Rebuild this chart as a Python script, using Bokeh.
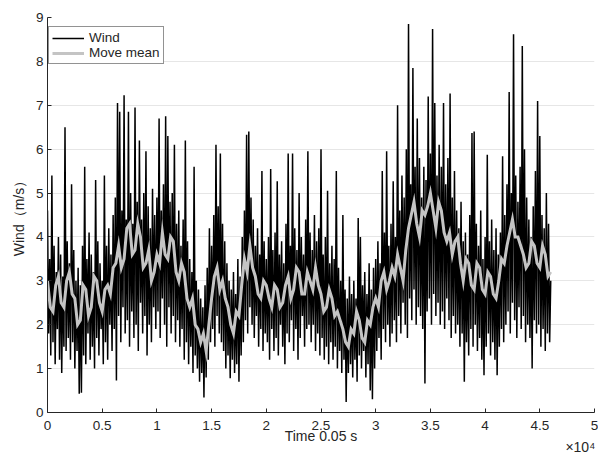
from bokeh.plotting import figure
from bokeh.models import FixedTicker, Legend, LegendItem, LinearAxis
from bokeh.embed import file_html
from bokeh.resources import INLINE

# Wind samples (m/s), one every 100 time steps, t = 0 .. 46000
wind_step = 100
wind = [
    4.6, 1.8, 3.5, 1.3, 5.4, 1.6, 3.8, 1.1, 3.2, 1.9, 4.0, 1.2, 3.6, 0.9, 3.1, 1.5, 6.5, 1.4, 3.9, 1.7,
    3.4, 1.2, 5.2, 1.6, 3.7, 1.0, 3.0, 1.4, 3.3, 0.43, 2.9, 0.45, 3.8, 1.3, 5.6, 1.1, 3.5, 1.8, 4.1, 1.2,
    3.6, 1.5, 3.2, 1.0, 5.3, 1.7, 3.9, 1.3, 3.4, 1.9, 3.0, 1.1, 5.4, 1.6, 3.8, 1.2, 4.2, 2.0, 3.6, 1.4,
    4.5, 1.9, 4.9, 0.73, 7.05, 2.2, 6.85, 1.6, 4.6, 2.4, 7.23, 1.8, 4.4, 2.1, 6.85, 1.5, 5.0, 2.3, 4.3, 1.7,
    6.95, 2.0, 4.8, 1.4, 6.2, 2.5, 4.4, 1.8, 5.0, 2.2, 5.95, 1.3, 4.7, 2.0, 4.2, 1.6, 5.1, 2.4, 4.5, 1.9,
    4.9, 2.3, 6.7, 1.7, 4.6, 2.6, 5.2, 2.0, 6.75, 1.5, 6.3, 2.4, 4.8, 1.8, 5.0, 2.2, 6.1, 1.6, 4.3, 2.1,
    4.6, 1.5, 3.8, 1.9, 4.4, 1.2, 6.2, 1.6, 3.9, 1.1, 3.5, 1.5, 3.2, 0.9, 5.6, 1.3, 3.0, 1.0, 2.8, 0.7,
    2.6, 0.9, 2.4, 0.34, 2.9, 0.8, 3.3, 1.2, 4.2, 1.6, 3.8, 1.9, 4.5, 1.5, 6.1, 2.2, 4.7, 1.8, 5.9, 1.6,
    4.3, 1.4, 3.9, 1.0, 3.4, 1.3, 3.0, 0.78, 2.8, 1.2, 3.2, 0.9, 2.7, 1.1, 3.5, 0.7, 3.1, 1.3, 4.0, 1.6,
    4.6, 2.1, 6.33, 1.8, 6.4, 2.4, 4.9, 2.0, 4.4, 1.7, 3.8, 2.2, 4.2, 1.5, 3.6, 1.9, 5.5, 1.4, 3.9, 1.8,
    3.5, 1.6, 4.0, 1.2, 5.55, 1.9, 3.7, 1.4, 4.1, 1.7, 5.27, 1.3, 3.6, 2.0, 3.9, 1.5, 3.4, 1.1, 4.3, 1.8,
    5.9, 1.6, 3.8, 2.1, 5.9, 1.4, 4.2, 1.9, 3.7, 1.2, 5.0, 1.7, 4.0, 2.2, 3.6, 1.5, 4.4, 1.9, 5.95, 2.0,
    4.1, 1.6, 3.7, 2.0, 4.5, 1.4, 3.9, 1.8, 4.2, 1.3, 6.0, 1.7, 3.6, 1.2, 4.0, 1.5, 5.05, 1.1, 3.4, 1.6,
    3.8, 1.2, 3.5, 1.5, 5.5, 1.0, 3.3, 1.4, 3.0, 0.9, 4.5, 1.2, 2.8, 0.24, 2.6, 0.9, 3.1, 1.1, 2.7, 0.8,
    3.0, 1.2, 2.6, 0.7, 4.43, 1.3, 4.0, 1.0, 2.9, 1.4, 3.2, 0.8, 2.7, 1.1, 3.4, 0.5, 2.8, 0.3, 3.3, 1.0,
    3.5, 1.4, 3.9, 1.7, 3.4, 1.2, 5.5, 1.9, 4.1, 1.6, 5.95, 2.0, 3.8, 1.5, 4.3, 1.8, 5.27, 2.1, 4.0, 1.6,
    7.0, 2.2, 4.6, 1.8, 5.4, 2.5, 4.9, 2.0, 6.0, 1.7, 8.85, 2.6, 5.2, 2.1, 7.85, 2.8, 5.6, 2.0, 6.7, 2.4,
    5.8, 2.2, 4.9, 1.9, 5.6, 0.66, 5.3, 2.3, 7.2, 2.6, 5.9, 2.0, 8.74, 2.7, 7.05, 2.2, 5.4, 2.5, 6.1, 2.0,
    5.6, 2.3, 7.05, 1.9, 5.2, 2.6, 5.8, 2.1, 7.27, 1.7, 4.9, 2.2, 5.5, 1.8, 4.6, 2.0, 4.2, 1.5, 4.8, 1.8,
    3.9, 0.7, 4.1, 1.6, 3.6, 1.3, 4.5, 1.9, 6.37, 1.5, 6.4, 2.0, 4.3, 1.4, 3.8, 1.7, 4.6, 1.2, 3.5, 0.85,
    4.0, 1.5, 5.87, 1.8, 3.9, 1.3, 4.4, 1.6, 3.7, 1.2, 4.2, 0.85, 3.6, 1.5, 4.1, 1.9, 5.84, 1.6, 4.5, 2.0,
    5.2, 2.3, 7.3, 1.8, 5.0, 2.5, 8.62, 2.1, 5.4, 1.7, 4.8, 2.4, 5.6, 1.9, 8.35, 2.2, 6.0, 1.6, 4.9, 2.0,
    4.4, 1.7, 4.0, 1.0, 4.7, 2.1, 5.5, 1.8, 7.1, 2.0, 6.3, 1.5, 4.5, 1.9, 4.2, 1.4, 5.0, 1.8, 4.3, 1.6,
    3.0,
]

# Moving mean (m/s), one every 250 time steps, t = 0 .. 46000
mean_step = 250
move_mean = [
    3.0, 2.4, 2.3, 2.9, 3.1, 2.5, 2.4, 3.0, 3.2, 2.7, 2.6, 2.0, 2.1, 2.9, 2.8, 2.2, 2.4, 3.1, 3.0, 2.5,
    2.3, 2.8, 2.9, 2.7, 3.3, 3.4, 3.8, 3.3, 3.5, 4.2, 4.3, 3.6, 3.7, 4.3, 4.0, 3.3, 3.4, 3.7, 3.0, 3.2,
    3.6, 3.4, 4.1, 3.6, 3.5, 4.0, 3.9, 3.2, 3.0, 3.4, 3.2, 2.6, 2.4, 2.6, 2.0, 1.9, 1.6, 1.8, 1.4, 2.0,
    2.6, 3.1, 3.3, 2.8, 3.0, 2.6, 2.4, 2.0, 1.8, 2.3, 2.2, 2.9, 3.5, 3.2, 3.8, 3.3, 3.1, 2.7, 2.6, 3.0,
    2.9, 2.6, 2.4, 2.9, 2.8, 2.4, 2.5, 2.9, 3.1, 2.6, 2.8, 3.3, 3.2, 2.7, 2.7, 3.2, 3.0, 2.8, 3.3, 2.9,
    2.7, 2.3, 2.4, 2.8, 2.6, 2.2, 2.3, 2.1, 1.9, 1.6, 1.5, 1.9, 1.8, 2.3, 2.1, 1.7, 1.6, 2.1, 2.0, 2.4,
    2.6, 2.4, 3.0, 3.2, 2.8, 3.0, 3.3, 3.1, 3.6, 3.3, 3.0, 3.7, 4.2, 4.5, 4.8, 4.3, 4.0, 4.6, 4.5, 4.7,
    5.0, 4.6, 4.2, 4.8, 4.6, 4.1, 3.9, 4.1, 3.6, 3.9, 4.0, 3.4, 3.0, 3.5, 3.4, 2.9, 2.8, 3.4, 3.3, 2.8,
    2.7, 3.2, 3.1, 2.7, 2.6, 3.0, 3.5, 3.4, 3.8, 4.1, 4.4, 4.0, 4.0, 3.8, 3.6, 3.3, 3.4, 3.9, 3.8, 3.4,
    3.3, 3.8, 3.6, 3.1, 3.2,
]

x_ticks = [0, 5000, 10000, 15000, 20000, 25000, 30000, 35000, 40000, 45000, 50000]
x_tick_labels = ["0", "0.5", "1", "1.5", "2", "2.5", "3", "3.5", "4", "4.5", "5"]
y_ticks = [0, 1, 2, 3, 4, 5, 6, 7, 8, 9]
exponent_label = "×10⁴"

wind_t = [i * wind_step for i in range(len(wind))]
mean_t = [i * mean_step for i in range(len(move_mean))]

FONT = "Liberation Sans"
AX = "#262626"

p = figure(width=598, height=457, x_range=(0, 50000), y_range=(0, 9),
           output_backend="svg", toolbar_location=None,
           min_border_left=47, min_border_right=4, min_border_top=17, min_border_bottom=45)
p.outline_line_color = None
p.background_fill_color = "white"
p.border_fill_color = "white"

r1 = p.line(wind_t, wind, line_color="black", line_width=1.5)
r2 = p.line(mean_t, move_mean, line_color="#c4c4c4", line_width=3, line_join="miter")

p.xaxis.ticker = FixedTicker(ticks=x_ticks)
p.xaxis.major_label_overrides = {t: l for t, l in zip(x_ticks, x_tick_labels)}
p.yaxis.ticker = FixedTicker(ticks=y_ticks)
p.xaxis.minor_tick_line_color = None
p.yaxis.minor_tick_line_color = None
for ax in (p.xaxis[0], p.yaxis[0]):
    ax.axis_line_color = AX
    ax.major_tick_line_color = AX
    ax.major_tick_in = 4
    ax.major_tick_out = 0
    ax.major_label_text_font = FONT
    ax.major_label_text_font_size = "13.5px"
    ax.major_label_text_color = AX
    ax.axis_label_text_font = FONT
    ax.axis_label_text_font_size = "14px"
    ax.axis_label_text_font_style = "normal"
    ax.axis_label_text_color = AX
p.xaxis.major_label_standoff = 8
p.yaxis.major_label_standoff = 4
p.xaxis.axis_label = "Time 0.05 s"
p.yaxis.axis_label = "Wind（m/s）"
p.xaxis.axis_label_standoff = -5
p.yaxis.axis_label_standoff = 6

# exponent note under the right end of the x axis
exp_axis = LinearAxis(ticker=FixedTicker(ticks=[48700]),
                      major_label_overrides={48700: exponent_label})
exp_axis.axis_line_color = None
exp_axis.major_tick_line_color = None
exp_axis.minor_tick_line_color = None
exp_axis.major_label_standoff = -14
exp_axis.major_label_text_font = FONT
exp_axis.major_label_text_font_size = "14px"
exp_axis.major_label_text_color = AX
p.add_layout(exp_axis, "below")

p.xgrid.grid_line_color = None
p.ygrid.grid_line_color = "#e6e6e6"
p.ygrid.grid_line_width = 1

legend = Legend(items=[LegendItem(label="Wind", renderers=[r1]),
                       LegendItem(label="Move mean", renderers=[r2])],
                location=(1, 348))
legend.label_text_font = FONT
legend.label_text_font_size = "13.5px"
legend.label_text_color = AX
legend.border_line_color = AX
legend.border_line_width = 1
legend.background_fill_alpha = 1
legend.glyph_width = 32
legend.glyph_height = 14
legend.label_height = 14
legend.spacing = 0
legend.padding = 3
legend.margin = 0
legend.label_standoff = 5
p.add_layout(legend)

open("out.html", "w").write(file_html(p, INLINE))
